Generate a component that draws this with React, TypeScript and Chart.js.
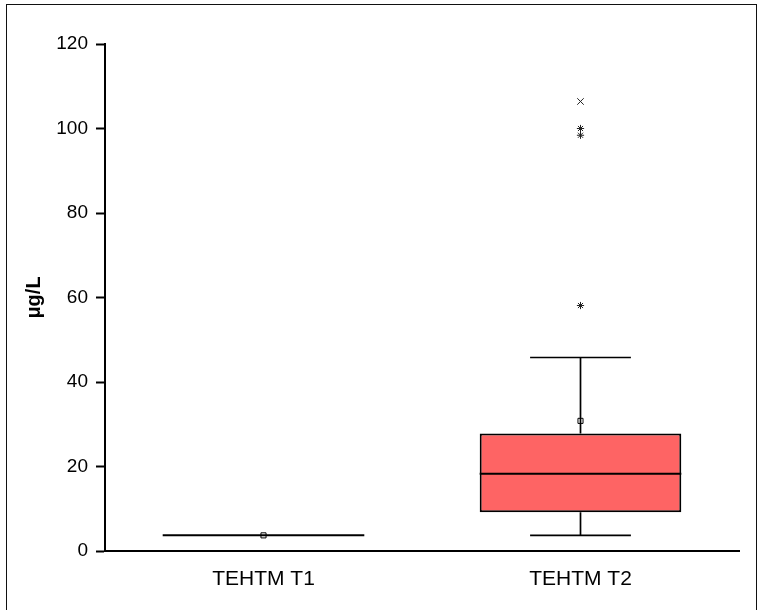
import React, { useEffect, useRef } from 'react';
import { Chart, registerables } from 'chart.js';

Chart.register(...registerables);

const categories = ['TEHTM T1', 'TEHTM T2'];
const q1Values = [3.7, 9.2];
const q3Values = [3.7, 27.8];
const medianValues = [3.7, 18.3];
const whiskerLow = [3.7, 3.7];
const whiskerHigh = [3.7, 45.8];
const meanValues = [3.7, 30.8];
const outlierCategory = ['TEHTM T2', 'TEHTM T2', 'TEHTM T2'];
const outlierValues = [100.0, 98.4, 58.1];
const maxCategory = ['TEHTM T2'];
const maxValues = [106.4];
const yTickValues = [0, 20, 40, 60, 80, 100, 120];

const FONT = "'Liberation Sans', Arial, sans-serif";

const boxPlugin = {
  id: 'boxParts',
  afterDatasetsDraw(chart: any) {
    const meta = chart.getDatasetMeta(0);
    const y = chart.scales.y;
    const ctx = chart.ctx;
    ctx.save();
    ctx.strokeStyle = '#000';
    meta.data.forEach((bar: any, i: number) => {
      const { x, width } = bar.getProps(['x', 'width'], true);
      const half = width / 2;
      const capHalf = width / 4;
      const yq1 = y.getPixelForValue(q1Values[i]);
      const yq3 = y.getPixelForValue(q3Values[i]);
      const ylo = y.getPixelForValue(whiskerLow[i]);
      const yhi = y.getPixelForValue(whiskerHigh[i]);
      const ymed = y.getPixelForValue(medianValues[i]);
      ctx.lineWidth = 1.7;
      ctx.beginPath();
      if (yhi < yq3) {
        ctx.moveTo(x, yq3);
        ctx.lineTo(x, yhi);
        ctx.moveTo(x - capHalf, yhi);
        ctx.lineTo(x + capHalf, yhi);
      }
      if (ylo > yq1) {
        ctx.moveTo(x, yq1);
        ctx.lineTo(x, ylo);
        ctx.moveTo(x - capHalf, ylo);
        ctx.lineTo(x + capHalf, ylo);
      }
      ctx.stroke();
      ctx.lineWidth = 2;
      ctx.beginPath();
      ctx.moveTo(x - half, ymed);
      ctx.lineTo(x + half, ymed);
      ctx.stroke();
    });
    ctx.restore();
  },
};

export default function App() {
  const ref = useRef<HTMLCanvasElement | null>(null);

  useEffect(() => {
    if (!ref.current) return;
    const chart = new Chart(ref.current, {
      type: 'bar',
      data: {
        labels: categories,
        datasets: [
          {
            type: 'bar',
            data: categories.map((_, i) => [q1Values[i], q3Values[i]]) as any,
            backgroundColor: '#fe6464',
            borderColor: '#000',
            borderWidth: 2,
            borderSkipped: false,
            categoryPercentage: 1,
            barPercentage: 0.636,
            order: 3,
          } as any,
          {
            type: 'line',
            data: meanValues,
            showLine: false,
            pointStyle: 'rect',
            pointRadius: 3.6,
            pointBackgroundColor: 'rgba(255,255,255,0)',
            pointBorderColor: '#000',
            pointBorderWidth: 1,
            order: 1,
          } as any,
          {
            type: 'line',
            data: outlierValues.map((v, i) => ({ x: outlierCategory[i], y: v })),
            showLine: false,
            pointStyle: 'star',
            pointRadius: 3.6,
            pointBorderColor: '#222',
            pointBorderWidth: 1,
            order: 1,
          } as any,
          {
            type: 'line',
            data: maxValues.map((v, i) => ({ x: maxCategory[i], y: v })),
            showLine: false,
            pointStyle: 'crossRot',
            pointRadius: 4.6,
            pointBorderColor: '#222',
            pointBorderWidth: 1,
            order: 1,
          } as any,
        ],
      },
      options: {
        animation: false,
        responsive: false,
        maintainAspectRatio: false,
        layout: { padding: { left: 0, top: 44, right: 22, bottom: 0 } },
        plugins: {
          legend: { display: false },
          tooltip: { enabled: false },
        },
        scales: {
          x: {
            type: 'category',
            offset: true,
            grid: { display: false },
            border: { display: true, color: '#000', width: 2 },
            ticks: {
              color: '#000',
              padding: 8,
              font: { family: FONT, size: 21 },
            },
            afterFit(scale: any) {
              scale.height = 59;
            },
          },
          y: {
            type: 'linear',
            min: 0,
            max: 120,
            afterBuildTicks(scale: any) {
              scale.ticks = yTickValues.map((v) => ({ value: v }));
            },
            grid: {
              drawOnChartArea: false,
              drawTicks: true,
              tickLength: 9,
              tickWidth: 2,
              color: '#000',
            },
            border: { display: true, color: '#000', width: 2 },
            ticks: {
              color: '#000',
              padding: 8,
              font: { family: FONT, size: 19 },
            },
            title: {
              display: true,
              text: 'μg/L',
              color: '#000',
              padding: { top: 22, bottom: 0 },
              font: { family: FONT, size: 20, weight: 'bold' },
            },
            afterFit(scale: any) {
              scale.width = 105;
            },
          },
        },
      } as any,
      plugins: [boxPlugin],
    });
    return () => chart.destroy();
  }, []);

  return (
    <div style={{ position: 'fixed', left: 0, top: 0, width: 761, height: 610, background: '#fff', overflow: 'hidden' }}>
      <div
        style={{
          position: 'absolute',
          left: 6,
          top: 4,
          width: 751,
          height: 620,
          border: '1.5px solid #111',
          boxSizing: 'border-box',
        }}
      />
      <canvas ref={ref} width={761} height={610} style={{ position: 'absolute', left: 0, top: 0, width: 761, height: 610 }} />
    </div>
  );
}
